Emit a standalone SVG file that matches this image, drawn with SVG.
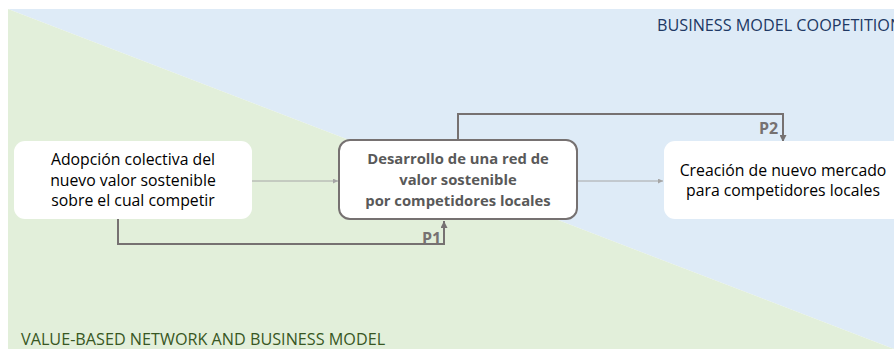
<svg xmlns="http://www.w3.org/2000/svg" width="894" height="349" viewBox="0 0 894 349">
<style>
.box{fill:#ffffff}
.box2{fill:#ffffff;stroke:#767171;stroke-width:2}
.t{font-family:"Open Sans","Liberation Sans",sans-serif;font-size:15.8px;fill:#000000;text-anchor:middle}
.tb{font-family:"Open Sans","Liberation Sans",sans-serif;font-size:14.8px;font-weight:bold;fill:#595959;text-anchor:middle}
.lbl{font-family:"Open Sans","Liberation Sans",sans-serif;font-size:16px;font-weight:bold;fill:#767171}
.thin{fill:none;stroke:#a6a6a6;stroke-width:1}
.thick{fill:none;stroke:#767171;stroke-width:2}
.area{font-family:"Open Sans","Liberation Sans",sans-serif;font-size:16.2px}
</style>
<defs>
<marker id="ah" viewBox="0 0 10 10" refX="10" refY="5" markerWidth="5" markerHeight="5" orient="auto" markerUnits="strokeWidth">
<path d="M0,0 L10,5 L0,10 z" fill="#a6a6a6"/>
</marker>
<marker id="ah2" viewBox="0 0 10 10" refX="10" refY="5" markerWidth="3.5" markerHeight="3.5" orient="auto" markerUnits="strokeWidth">
<path d="M0,0 L10,5 L0,10 z" fill="#767171"/>
</marker>
</defs>
<g id="background">
<rect x="0" y="0" width="894" height="349" fill="#ffffff"/>
<polygon points="8,9 894,9 894,349" fill="#deebf7"/>
<polygon points="8,9 894,349 8,349" fill="#e2efda"/>
<text class="area" x="657" y="31" fill="#203864">BUSINESS MODEL COOPETITION</text>
<text class="area" x="21" y="345" fill="#385723">VALUE-BASED NETWORK AND BUSINESS MODEL</text>
</g>
<g id="connectors">
<line class="thin" x1="252" y1="181" x2="338" y2="181" marker-end="url(#ah)"/>
<line class="thin" x1="578" y1="181" x2="663" y2="181" marker-end="url(#ah)"/>
<polyline class="thick" points="118,219 118,244 444,244 444,221" marker-end="url(#ah2)"/>
<polyline class="thick" points="458,140 458,114 783,114 783,142" marker-end="url(#ah2)"/>
<text class="lbl" x="422" y="244">P1</text>
<text class="lbl" x="759" y="134">P2</text>
</g>
<g id="node1">
<rect class="box" x="14" y="141" width="238" height="78" rx="11"/>
<text class="t" x="133" y="165">Adopción colectiva del</text>
<text class="t" x="133" y="186">nuevo valor sostenible</text>
<text class="t" x="133" y="206">sobre el cual competir</text>
</g>
<g id="node2">
<rect class="box2" x="339" y="140" width="238" height="79" rx="11"/>
<text class="tb" x="458" y="164">Desarrollo de una red de</text>
<text class="tb" x="458" y="185">valor sostenible</text>
<text class="tb" x="458" y="206">por competidores locales</text>
</g>
<g id="node3">
<rect class="box" x="664" y="141" width="250" height="78" rx="11"/>
<text class="t" x="783" y="176">Creación de nuevo mercado</text>
<text class="t" x="783" y="196">para competidores locales</text>
</g>
</svg>
